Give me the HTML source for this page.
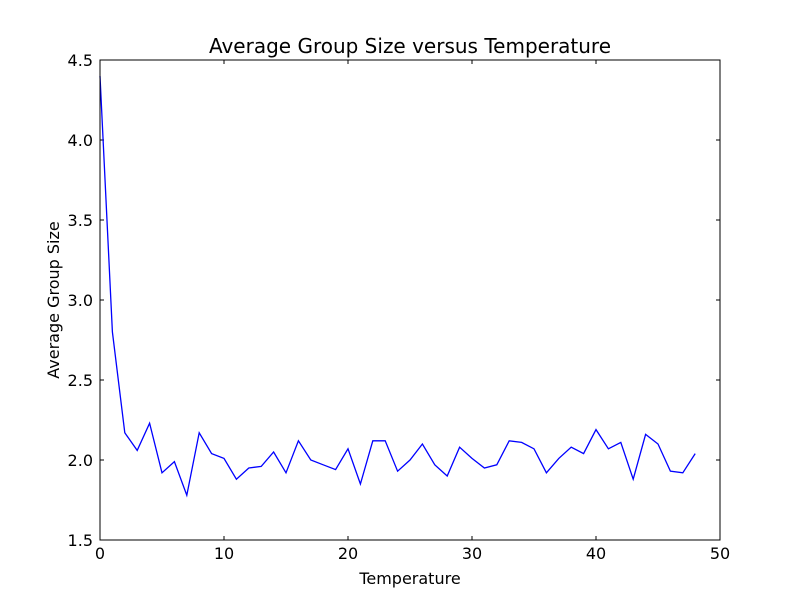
<!DOCTYPE html>
<html><head><meta charset="utf-8"><style>
body{margin:0;background:#fff;}
svg text{font-family:"DejaVu Sans","Liberation Sans",sans-serif;fill:#000;}
</style></head><body>
<svg id="chart" width="800" height="600">
<rect width="800" height="600" fill="#fff"/>
<text x="410" y="53" font-size="20" text-anchor="middle">Average Group Size versus Temperature</text>
<text x="410" y="584" font-size="16" text-anchor="middle">Temperature</text>
<text x="59" y="300" font-size="16" text-anchor="middle" transform="rotate(-90 59 300)">Average Group Size</text>
<g id="ticks"></g>
<polyline id="line" fill="none" stroke="#0000ff" stroke-width="1.3"/>
<rect x="100" y="60" width="620" height="480" fill="none" stroke="#000" stroke-width="1"/>
</svg>
<script>
const temps=[0,1,2,3,4,5,6,7,8,9,10,11,12,13,14,15,16,17,18,19,20,21,22,23,24,25,26,27,28,29,30,31,32,33,34,35,36,37,38,39,40,41,42,43,44,45,46,47,48];
const sizes=[4.4,2.8,2.17,2.06,2.23,1.92,1.99,1.78,2.17,2.04,2.01,1.88,1.95,1.96,2.05,1.92,2.12,2.0,1.97,1.94,2.07,1.85,2.12,2.12,1.93,2.0,2.1,1.97,1.9,2.08,2.01,1.95,1.97,2.12,2.11,2.07,1.92,2.01,2.08,2.04,2.19,2.07,2.11,1.88,2.16,2.1,1.93,1.92,2.04];
const xTicks=[0,10,20,30,40,50];
const yTicks=[1.5,2.0,2.5,3.0,3.5,4.0,4.5];
const X=v=>100+(v-0)/50*620;
const Y=v=>540-(v-1.5)/3*480;
const NS="http://www.w3.org/2000/svg";
const g=document.getElementById('ticks');
function mk(t,a){const e=document.createElementNS(NS,t);for(const k in a)e.setAttribute(k,a[k]);g.appendChild(e);return e;}
xTicks.forEach(v=>{
  const x=X(v);
  const t1=mk('line',{x1:x,x2:x,y1:540,y2:536,stroke:'#000'});
  
  
  const t2=mk('line',{x1:x,x2:x,y1:60,y2:64,stroke:'#000'});
  
  
  const l=mk('text',{x:x,y:559,'font-size':16,'text-anchor':'middle'});
  l.textContent=v;
  
  
});
yTicks.forEach(v=>{
  const y=Y(v);
  const t1=mk('line',{x1:100,x2:104,y1:y,y2:y,stroke:'#000'});
  
  
  const t2=mk('line',{x1:716,x2:720,y1:y,y2:y,stroke:'#000'});
  
  
  const l=mk('text',{x:93,y:y+6,'font-size':16,'text-anchor':'end'});
  l.textContent=v.toFixed(1);
  
  
});
document.getElementById('line').setAttribute('points',temps.map((t,i)=>X(t)+','+Y(sizes[i])).join(' '));
</script>
</body></html>
